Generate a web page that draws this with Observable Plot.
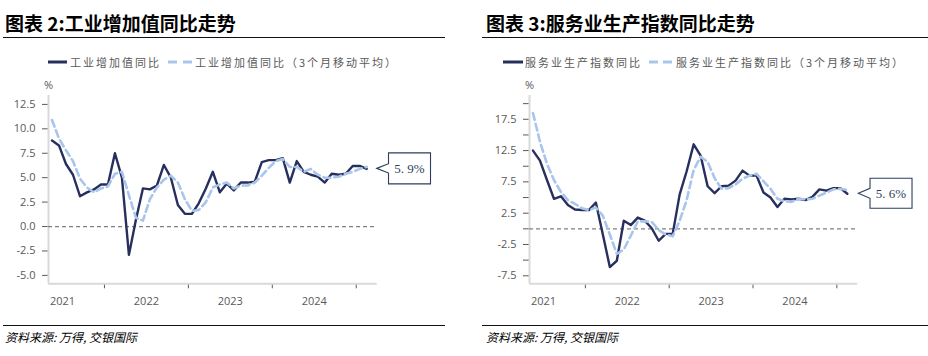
<!DOCTYPE html>
<html><head><meta charset="utf-8">
<script src="https://cdn.jsdelivr.net/npm/d3@7"></script>
<script src="https://cdn.jsdelivr.net/npm/@observablehq/plot@0.6"></script>
<style>
html,body{margin:0;padding:0;background:#fff}
body{width:928px;height:356px;position:relative;overflow:hidden;font-family:"Noto Sans CJK SC",sans-serif}
.abs{position:absolute;white-space:nowrap}
.title{font-size:19px;font-weight:700;color:#000;top:11px;line-height:24px}
.rule{height:1.5px;background:#111}
.lg{top:54px;font-size:11px;color:#595959;letter-spacing:2px;line-height:16px}
.src{font-size:12px;font-style:italic;top:329px;line-height:16px;color:#000}
</style></head>
<body>
<div class="abs title" style="left:5px">图表 2:工业增加值同比走势</div>
<div class="abs rule" style="left:3px;width:442px;top:36.5px"></div>
<div class="abs title" style="left:486px">图表 3:服务业生产指数同比走势</div>
<div class="abs rule" style="left:482px;width:446px;top:36.5px"></div>

<svg class="abs" style="left:48px;top:60px" width="20" height="4"><line x1="0" x2="19" y1="2" y2="2" stroke="#272f5d" stroke-width="3"/></svg>
<div class="abs lg" style="left:70px">工业增加值同比</div>
<svg class="abs" style="left:168px;top:60px" width="25" height="4"><line x1="0" x2="24" y1="2" y2="2" stroke="#a9c5ec" stroke-width="3" stroke-dasharray="9,6"/></svg>
<div class="abs lg" style="left:195px">工业增加值同比（3个月移动平均）</div>

<svg class="abs" style="left:503px;top:60px" width="21" height="4"><line x1="0" x2="20" y1="2" y2="2" stroke="#272f5d" stroke-width="3"/></svg>
<div class="abs lg" style="left:525px">服务业生产指数同比</div>
<svg class="abs" style="left:649px;top:60px" width="24" height="4"><line x1="0" x2="23" y1="2" y2="2" stroke="#a9c5ec" stroke-width="3" stroke-dasharray="9,5"/></svg>
<div class="abs lg" style="left:676px">服务业生产指数同比（3个月移动平均）</div>

<div id="left" class="abs" style="left:0;top:75px"></div>
<div id="right" class="abs" style="left:464px;top:75px"></div>

<div class="abs rule" style="left:3px;width:442px;top:324.5px;height:1.2px"></div>
<div class="abs rule" style="left:482px;width:446px;top:324.5px;height:1.2px"></div>
<div class="abs src" style="left:5px">资料来源: 万得, 交银国际</div>
<div class="abs src" style="left:486px">资料来源: 万得, 交银国际</div>

<script>
// Months: May 2021 .. Feb 2025
const months = d3.utcMonth.range(new Date(Date.UTC(2021, 4, 1)), new Date(Date.UTC(2025, 2, 1)));

// 工业增加值同比 (%)
const ipYoy = [8.8, 8.3, 6.4, 5.3, 3.1, 3.5, 3.8, 4.3,
  4.3, 7.5, 5.0, -2.9, 0.7, 3.9, 3.8, 4.2, 6.3, 5.0, 2.2, 1.3,
  1.3, 2.4, 3.9, 5.6, 3.5, 4.4, 3.7, 4.5, 4.5, 4.6, 6.6, 6.8,
  6.8, 7.0, 4.5, 6.7, 5.6, 5.3, 5.1, 4.5, 5.4, 5.3, 5.4, 6.2,
  6.2, 5.9];
// 工业增加值同比（3个月移动平均）
const ipMa3 = [10.9, 9.0, 7.8, 6.7, 4.9, 4.0, 3.5, 3.9,
  4.1, 5.4, 5.6, 3.2, 0.9, 0.6, 2.8, 4.0, 4.8, 5.2, 4.5, 2.8,
  1.6, 1.7, 2.5, 4.0, 4.3, 4.5, 3.9, 4.2, 4.2, 4.5, 5.2, 6.0,
  6.7, 6.9, 6.1, 6.1, 5.6, 5.9, 5.3, 5.0, 5.0, 5.1, 5.4, 5.6,
  5.9, 6.1];
// 服务业生产指数同比 (%)
const svcYoy = [12.5, 10.9, 7.8, 4.8, 5.2, 3.8, 3.1, 3.0,
  3.0, 4.2, -0.9, -6.1, -5.1, 1.3, 0.6, 1.8, 1.3, 0.1, -1.9, -0.8,
  -0.8, 5.5, 9.2, 13.5, 11.7, 6.8, 5.7, 6.8, 6.9, 7.7, 9.3, 8.5,
  8.5, 5.8, 5.0, 3.5, 4.8, 4.7, 4.8, 4.6, 5.1, 6.3, 6.1, 6.5,
  6.5, 5.6];
// 服务业生产指数同比（3个月移动平均）
const svcMa3 = [18.5, 13.9, 10.4, 7.8, 5.9, 4.6, 4.0, 3.3,
  3.0, 3.4, 2.1, -0.9, -4.0, -3.3, -1.1, 1.2, 1.2, 1.1, -0.2, -0.9,
  -1.2, 1.3, 4.6, 9.4, 11.5, 10.7, 8.1, 6.4, 6.5, 7.1, 8.0, 8.5,
  8.8, 7.6, 6.4, 4.8, 4.4, 4.3, 4.8, 4.7, 4.8, 5.3, 5.8, 6.3,
  6.4, 6.2];

const ipTicks = [-5, -2.5, 0, 2.5, 5, 7.5, 10, 12.5];
const ipTickLabels = [-5, -2.5, 0, 2.5, 5, 7.5, 10, 12.5];
const svcTicks = [-7.5, -5, -2.5, 0, 2.5, 5, 7.5, 10, 12.5, 15, 17.5, 20];
const svcTickLabels = [-7.5, -2.5, 2.5, 7.5, 12.5, 17.5];

const yearBounds = months.map((d, i) => ({d, i})).filter(o => o.d.getUTCMonth() === 0).map(o => o.i - 0.5);
const yearLabels = months.map((d, i) => ({d, i})).filter(o => o.d.getUTCMonth() === 6)
  .map(o => ({i: o.i - 0.5, label: String(o.d.getUTCFullYear())}));

const NAVY = "#272f5d", LIGHT = "#a9c5ec", BOX = "#2b3f5e";

function panel({values, ma, yDomain, yTicks, yLabeled, width, marginLeft, marginRight, tipDx, half, bh}) {
  const data = months.map((d, i) => ({i, v: values[i], m: ma[i]}));
  const lastI = values.length - 1, lastV = values[lastI];
  const label = lastV.toFixed(1).replace(".", ". ") + "%";
  const callout = (index, scales) => {
    const sx = scales.x, sy = scales.y;
    const x0 = sx(lastI), y0 = sy(lastV);
    const tip = x0 + tipDx, bx = tip + 11.7, bw = 42;
    const g = d3.create("svg:g");
    g.append("path")
      .attr("d", `M${tip},${y0} L${bx},${y0 - half} L${bx},${y0 - bh / 2} L${bx + bw},${y0 - bh / 2} L${bx + bw},${y0 + bh / 2} L${bx},${y0 + bh / 2} L${bx},${y0 + half} Z`)
      .attr("fill", "#fff").attr("stroke", BOX).attr("stroke-width", 1.1);
    g.append("text").attr("x", bx + bw / 2).attr("y", y0).attr("dy", "0.35em")
      .attr("text-anchor", "middle").attr("fill", BOX)
      .attr("font-family", "Liberation Serif, serif").attr("font-size", 13)
      .text(label);
    return g.node();
  };
  return Plot.plot({
    width, height: 240,
    marginTop: 20, marginBottom: 31.7, marginLeft, marginRight,
    style: {fontFamily: "Open Sans, sans-serif", fontSize: "11px", color: "#595959", background: "transparent", overflow: "visible"},
    x: {type: "linear", domain: [-0.5, 46.5], ticks: yearBounds, tickFormat: () => "", tickSize: 5, label: null},
    y: {domain: yDomain, ticks: yTicks, tickFormat: d => yLabeled.includes(d) ? d.toFixed(1) : "", tickSize: 6, tickPadding: 7, label: null},
    marks: [
      Plot.ruleY([yDomain[0]], {stroke: "#d9d9d9", strokeWidth: 2}),
      Plot.ruleX([-0.5], {stroke: "#d9d9d9", strokeWidth: 2}),
      Plot.ruleY([0], {stroke: "#7f7f7f", strokeWidth: 1.3, strokeDasharray: "4,3"}),
      Plot.line(data, {x: "i", y: "v", stroke: NAVY, strokeWidth: 2.4}),
      Plot.line(data, {x: "i", y: "m", stroke: LIGHT, strokeWidth: 2.6, strokeDasharray: "7,4"}),
      Plot.text(yearLabels, {x: "i", y: yDomain[0], text: "label", dy: 17.4, lineAnchor: "middle", fill: "#595959"}),
      Plot.text(["%"], {frameAnchor: "top-left", text: d => d, dy: -10, textAnchor: "middle", lineAnchor: "middle", fill: "#595959"}),
      callout
    ]
  });
}

document.getElementById("left").append(panel({
  values: ipYoy, ma: ipMa3, yDomain: [-5.86, 13.41], yTicks: ipTicks, yLabeled: ipTickLabels,
  width: 460, marginLeft: 48, marginRight: 83.3, tipDx: 10.6, half: 4.7, bh: 31
}));
document.getElementById("right").append(panel({
  values: svcYoy, ma: svcMa3, yDomain: [-8.78, 21.3], yTicks: svcTicks, yLabeled: svcTickLabels,
  width: 464, marginLeft: 65, marginRight: 70.7, tipDx: 11.5, half: 5, bh: 30
}));
</script>
</body></html>
